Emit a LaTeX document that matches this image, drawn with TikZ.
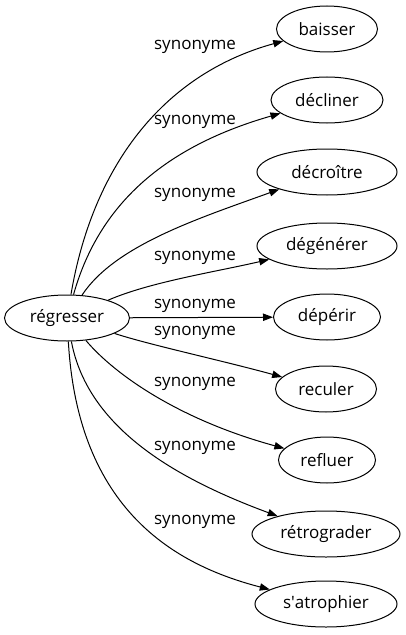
\documentclass[tikz,border=0pt]{standalone}
\usepackage{fontspec}
\setmainfont{Open Sans}
\usetikzlibrary{shapes.geometric,arrows.meta}
\begin{document}
\begin{tikzpicture}[x=0.75pt,y=-0.75pt,
  word/.style={ellipse,draw,line width=0.75pt,inner sep=0pt,minimum height=34.5pt,font=\fontsize{12.75}{15}\selectfont},
  lab/.style={inner sep=0pt,font=\fontsize{12.75}{15}\selectfont},
  link/.style={line width=0.75pt,-{Triangle[length=7.5pt,width=5.5pt]}}]
\useasboundingbox (0,0) rectangle (405,635);
\node[word,minimum width=93.75pt] (reg) at (67,318) {régresser};
\node[word,minimum width=75.75pt] (n1) at (327,29) {baisser};
\node[word,minimum width=84pt] (n2) at (327,100) {décliner};
\node[word,minimum width=105pt] (n3) at (327,172) {décroître};
\node[word,minimum width=105pt] (n4) at (327,246) {dégénérer};
\node[word,minimum width=80.25pt] (n5) at (327,317) {dépérir};
\node[word,minimum width=75.75pt] (n6) at (326,389) {reculer};
\node[word,minimum width=72.75pt] (n7) at (327,460) {refluer};
\node[word,minimum width=111pt] (n8) at (326,534) {rétrograder};
\node[word,minimum width=106.5pt] (n9) at (326,604) {s\textquotesingle atrophier};

\draw[link] (reg) .. controls (92,170) and (160,75) .. (n1);
\draw[link] (reg) .. controls (100,200) and (170,145) .. (n2);
\draw[link] (reg) .. controls (115,245) and (200,218) .. (n3);
\draw[link] (reg) .. controls (150,282) and (215,272) .. (n4);
\draw[link] (reg) -- (n5);
\draw[link] (reg) .. controls (150,345) and (220,360) .. (n6);
\draw[link] (reg) .. controls (115,375) and (180,420) .. (n7);
\draw[link] (reg) .. controls (88,430) and (180,480) .. (n8);
\draw[link] (reg) .. controls (78,510) and (175,565) .. (n9);

\node[lab] (l1) at (195,47) {synonyme};
\node[lab] (l2) at (195,122) {synonyme};
\node[lab] (l3) at (195,195) {synonyme};
\node[lab] (l4) at (195,258) {synonyme};
\node[lab] (l5) at (195,306) {synonyme};
\node[lab] (l6) at (195,333) {synonyme};
\node[lab] (l7) at (195,384) {synonyme};
\node[lab] (l8) at (195,448) {synonyme};
\node[lab] (l9) at (195,522) {synonyme};
\end{tikzpicture}
\end{document}
